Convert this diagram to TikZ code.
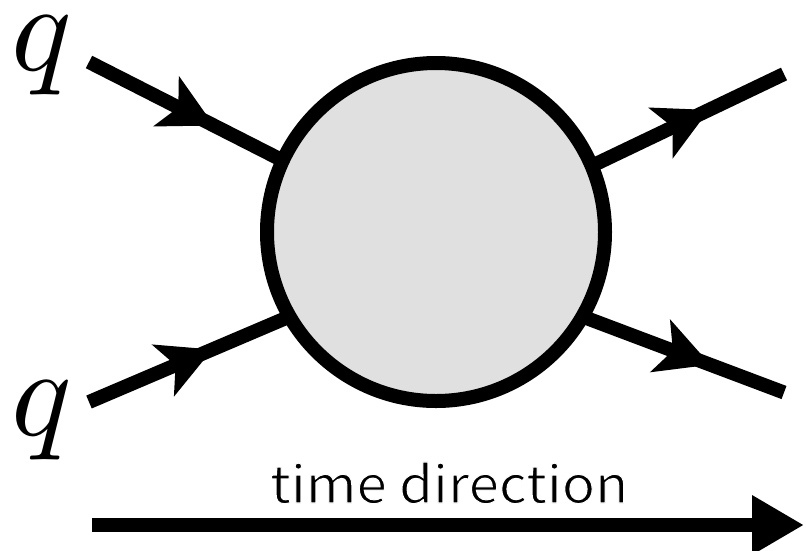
\documentclass[tikz,border=0pt]{standalone}
\usepackage{fontspec}
\newfontfamily\labelfont{Noto Sans CJK JP}
\usetikzlibrary{arrows.meta,decorations.markings}
\definecolor{blobgray}{RGB}{224,224,224}
\tikzset{
  fline/.style={line width=14pt, postaction={decorate},
    decoration={markings, mark=at position #1 with {\arrow{Stealth[length=53pt,width=55pt,inset=13pt]}}}},
  qlabel/.style={inner sep=0pt, outer sep=0pt, anchor=base west},
  blobstyle/.style={circle, draw=black, fill=blobgray, line width=14pt, minimum size=338pt, inner sep=0pt, outer sep=0pt},
}
\begin{document}
\begin{tikzpicture}[x=1pt,y=-1pt]
\useasboundingbox (0,0) rectangle (806,550);
\node[blobstyle] (blob) at (436,232) {};
\node[qlabel] (q1) at (11,70) {\scalebox{12.6}{$q$}};
\node[qlabel] (q2) at (11,435) {\scalebox{12.6}{$q$}};
\coordinate (a1) at (89,62);
\coordinate (a2) at (89,402);
\coordinate (b1) at (784,74);
\coordinate (b2) at (784,392.5);
\draw[fline=0.645] (a1) -- (blob.155.3);
\draw[fline=0.615] (a2) -- (blob.210.6);
\draw[fline=0.61] (blob.23.2) -- (b1);
\draw[fline=0.635] (blob.-30.2) -- (b2);
\coordinate (t0) at (92,525);
\coordinate (t1) at (804,525);
\draw[line width=14pt, -{Triangle[length=52pt,width=56pt]}] (t0) -- (t1);
\node[inner sep=0pt, anchor=base west] (tlabel) at (270,503) {\resizebox{358pt}{41pt}{\special{pdf:literal q 2 Tr 1 G 0.2 w}\labelfont time direction\special{pdf:literal Q}}};
\end{tikzpicture}
\end{document}
